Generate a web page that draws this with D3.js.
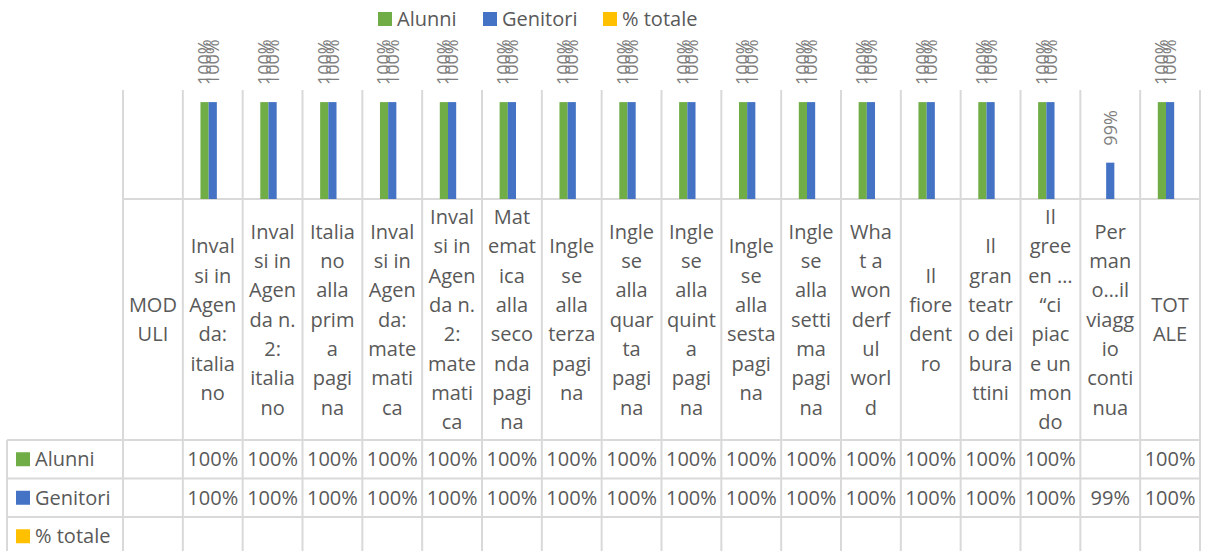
<!DOCTYPE html>
<html>
<head>
<meta charset="utf-8">
<script src="https://cdn.jsdelivr.net/npm/d3@7"></script>
<style>
  body { margin: 0; background: #fff; }
  svg text { font-family: "Open Sans", sans-serif; fill: #595959; }
</style>
</head>
<body>
<svg id="chart" width="1208" height="551"></svg>
<script>
// Clustered columns with a data table below (Excel-style)

// category labels, wrapped as shown in the data table header
const categories = [
  "MOD\nULI",
  "Inval\nsi in\nAgen\nda:\nitalia\nno",
  "Inval\nsi in\nAgen\nda n.\n2:\nitalia\nno",
  "Italia\nno\nalla\nprim\na\npagi\nna",
  "Inval\nsi in\nAgen\nda:\nmate\nmati\nca",
  "Inval\nsi in\nAgen\nda n.\n2:\nmate\nmati\nca",
  "Mat\nemat\nica\nalla\nseco\nnda\npagi\nna",
  "Ingle\nse\nalla\nterza\npagi\nna",
  "Ingle\nse\nalla\nquar\nta\npagi\nna",
  "Ingle\nse\nalla\nquint\na\npagi\nna",
  "Ingle\nse\nalla\nsesta\npagi\nna",
  "Ingle\nse\nalla\nsetti\nma\npagi\nna",
  "Wha\nt a\nwon\nderf\nul\nworl\nd",
  "Il\nfiore\ndent\nro",
  "Il\ngran\nteatr\no dei\nbura\nttini",
  "Il\ngree\nen …\n“ci\npiac\ne un\nmon\ndo",
  "Per\nman\no…il\nviagg\nio\nconti\nnua",
  "TOT\nALE"
];

const seriesNames = ["Alunni", "Genitori", "% totale"];
const seriesColors = ["#70ad47", "#4472c4", "#ffc000"];

const alunni   = [null, 1, 1, 1, 1, 1, 1, 1, 1, 1, 1, 1, 1, 1, 1, 1, null, 1];
const genitori = [null, 1, 1, 1, 1, 1, 1, 1, 1, 1, 1, 1, 1, 1, 1, 1, 0.99, 1];
const totale   = [null, null, null, null, null, null, null, null, null, null, null, null, null, null, null, null, null, null];

const seriesValues = [alunni, genitori, totale];

const svg = d3.select("#chart");
const fmt = d3.format(".0%");
const gridColor = "#d9d9d9";

// layout
const left = 123, right = 1200;
const plotTop = 90, plotBottom = 199;
const headerBottom = 440, rowH = 38.5;
const tableLeft = 7;
const fontSize = 20;

const x0 = d3.scaleBand()
  .domain(d3.range(categories.length))
  .range([left, right])
  .padding(0);

const x1 = d3.scaleBand()
  .domain(seriesNames)
  .range([0, x0.bandwidth()])
  .paddingInner(0)
  .paddingOuter(2.15);

// Excel auto axis (hidden): 0.984 .. 1.002
const y = d3.scaleLinear()
  .domain([0.984, 1.002])
  .range([plotBottom, plotTop]);

// Legend
const legendItems = [
  { x: 378, name: seriesNames[0], color: seriesColors[0] },
  { x: 483, name: seriesNames[1], color: seriesColors[1] },
  { x: 603, name: seriesNames[2], color: seriesColors[2] }
];
const legend = svg.append("g").selectAll("g")
  .data(legendItems)
  .join("g")
  .attr("transform", d => `translate(${d.x},12)`);
legend.append("rect").attr("width", 14).attr("height", 14).attr("fill", d => d.color);
legend.append("text")
  .attr("x", 19).attr("y", 7).attr("dy", "0.36em")
  .style("font-size", fontSize + "px")
  .text(d => d.name);

// Grid / table lines
const lines = svg.append("g")
  .attr("stroke", gridColor)
  .attr("stroke-width", 2)
  .attr("fill", "none");

const colEdges = d3.range(categories.length + 1).map(i => left + i * x0.step());
colEdges.forEach(cx => {
  lines.append("line")
    .attr("x1", cx).attr("x2", cx)
    .attr("y1", plotTop).attr("y2", 551);
});
lines.append("line")
  .attr("x1", left).attr("x2", right)
  .attr("y1", plotBottom).attr("y2", plotBottom);
[0, 1, 2].forEach(i => {
  lines.append("line")
    .attr("x1", tableLeft).attr("x2", right)
    .attr("y1", headerBottom + i * rowH).attr("y2", headerBottom + i * rowH);
});
lines.append("line")
  .attr("x1", tableLeft).attr("x2", tableLeft)
  .attr("y1", headerBottom).attr("y2", 551);

// Bars
const barData = [];
seriesValues.forEach((vals, s) => {
  vals.forEach((v, i) => {
    if (v != null) barData.push({ s, i, v });
  });
});

svg.append("g").selectAll("rect")
  .data(barData)
  .join("rect")
  .attr("x", d => x0(d.i) + x1(seriesNames[d.s]))
  .attr("y", d => y(d.v))
  .attr("width", x1.bandwidth())
  .attr("height", d => y.range()[0] - y(d.v))
  .attr("fill", d => seriesColors[d.s]);

// Data labels (rotated)
svg.append("g").selectAll("text")
  .data(barData)
  .join("text")
  .attr("transform", d => `translate(${x0(d.i) + x1(seriesNames[d.s]) + x1.bandwidth() / 2},${y(d.v) - 17}) rotate(-90)`)
  .attr("dy", "0.35em")
  .style("font-size", "18px")
  .style("fill", "#7f7f7f")
  .text(d => fmt(d.v));

// Header (category) labels
const lineH = 29.3;
const headerMid = (plotBottom + headerBottom) / 2;
const header = svg.append("g").selectAll("text")
  .data(categories)
  .join("text")
  .attr("text-anchor", "middle")
  .style("font-size", fontSize + "px");
header.selectAll("tspan")
  .data((d, i) => d.split("\n").map((t, k, arr) => ({ t, k, n: arr.length, i })))
  .join("tspan")
  .attr("x", d => x0(d.i) + x0.bandwidth() / 2)
  .attr("y", d => headerMid + (d.k - (d.n - 1) / 2) * lineH)
  .attr("dy", "0.36em")
  .text(d => d.t);

// Table rows
seriesValues.forEach((vals, s) => {
  const cy = headerBottom + s * rowH + rowH / 2;
  const row = svg.append("g");
  row.append("rect")
    .attr("x", 16).attr("y", cy - 7)
    .attr("width", 14).attr("height", 14)
    .attr("fill", seriesColors[s]);
  row.append("text")
    .attr("x", 35).attr("y", cy).attr("dy", "0.36em")
    .style("font-size", fontSize + "px")
    .text(seriesNames[s]);
  row.selectAll("text.val")
    .data(vals.map((v, i) => ({ v, i })).filter(d => d.v != null))
    .join("text")
    .attr("class", "val")
    .attr("x", d => x0(d.i) + x0.bandwidth() / 2)
    .attr("y", cy).attr("dy", "0.36em")
    .attr("text-anchor", "middle")
    .style("font-size", fontSize + "px")
    .text(d => fmt(d.v));
});
</script>
</body>
</html>
